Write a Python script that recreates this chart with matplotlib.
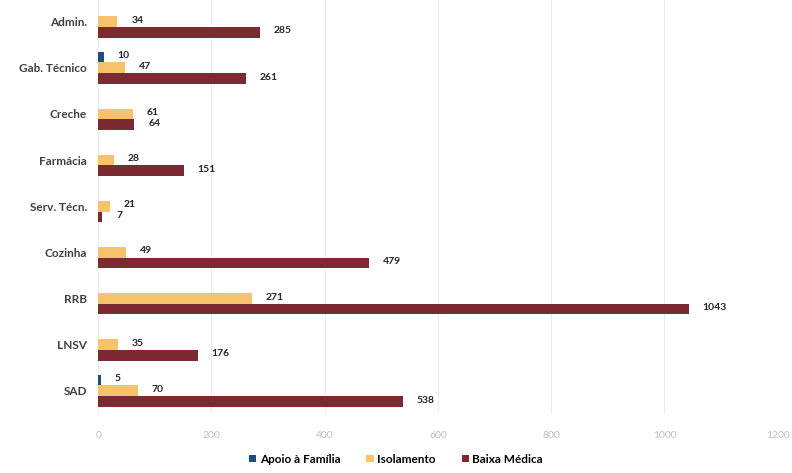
import numpy as np
import matplotlib
matplotlib.use('Agg')
import matplotlib.pyplot as plt

# ─── Dados ───────────────────────────────────────────────────────────────────
categorias = ['Admin.', 'Gab. Técnico', 'Creche', 'Farmácia', 'Serv. Técn.',
              'Cozinha', 'RRB', 'LNSV', 'SAD']
apoio_familia = [np.nan, 10, np.nan, np.nan, np.nan, np.nan, np.nan, np.nan, 5]
isolamento = [34, 47, 61, 28, 21, 49, 271, 35, 70]
baixa_medica = [285, 261, 64, 151, 7, 479, 1043, 176, 538]

series = [
    ('Apoio à Família', apoio_familia, '#1F4E79'),
    ('Isolamento', isolamento, '#F6C26B'),
    ('Baixa Médica', baixa_medica, '#7A2A30'),
]

plt.rcParams['font.family'] = ['Lato', 'DejaVu Sans']

fig = plt.figure(figsize=(7.92, 4.73), dpi=100)
ax = fig.add_axes([0.124, 0.125, 0.858, 0.878])

y = np.arange(len(categorias))
bar_h = 0.23
offsets = [-bar_h, 0, bar_h]

for (nome, vals, cor), off in zip(series, offsets):
    vals = np.array(vals, dtype=float)
    ax.barh(y + off, vals, height=bar_h, color=cor, edgecolor='none', label=nome)
    for yi, v in zip(y, vals):
        if np.isnan(v):
            continue
        ax.annotate(f'{int(v)}', xy=(v, yi + off), xytext=(10, 1),
                    textcoords='offset points', ha='left', va='center',
                    fontsize=7.5, fontweight='bold', color='#262626')

ax.set_xlim(0, 1200)
ax.set_xticks(np.arange(0, 1201, 200))
ax.set_ylim(len(categorias) - 0.5, -0.5)
ax.set_yticks(y)
ax.set_yticklabels(categorias, fontsize=8.5, fontweight='bold', color='#404040')
ax.tick_params(axis='x', labelsize=7.5, colors='#BFBFBF', length=0, pad=12)
ax.tick_params(axis='y', length=0, pad=8)

ax.grid(axis='x', color='#EDEDED', linewidth=0.8)
ax.set_axisbelow(True)
for s in ax.spines.values():
    s.set_visible(False)

fig.legend(loc='lower center', bbox_to_anchor=(0.5, -0.005), ncol=3,
           frameon=False, handlelength=0.6, handleheight=0.6,
           columnspacing=2.2, handletextpad=0.3,
           prop={'weight': 'bold', 'size': 8.5})

fig.savefig('out.png', dpi=100)
